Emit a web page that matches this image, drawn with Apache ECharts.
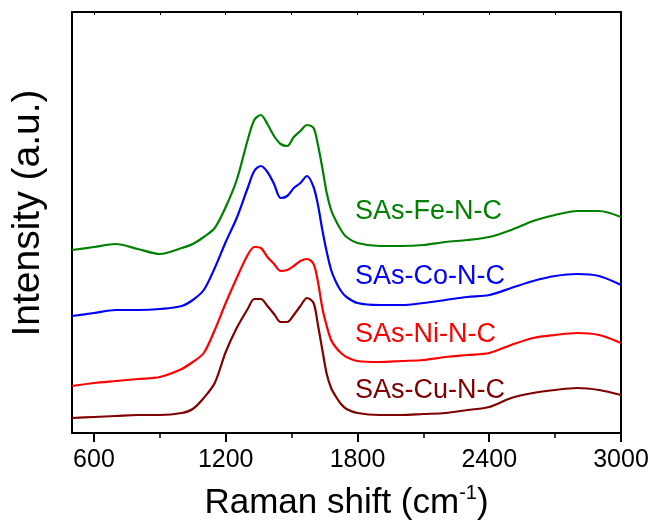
<!DOCTYPE html>
<html>
<head>
<meta charset="utf-8">
<script src="https://cdn.jsdelivr.net/npm/echarts@6/dist/echarts.min.js"></script>
<style>
html,body{margin:0;padding:0;background:#fff;}
#chart{width:657px;height:526px;}
</style>
</head>
<body>
<div id="chart"></div>
<script>
// Raman shift (cm^-1)
const ramanShift = [500,600,700,800,900,1000,1050,1100,1150,1200,1250,1300,1330,1360,1390,1420,1450,1480,1510,1540,1570,1600,1620,1640,1660,1680,1700,1725,1750,1800,1900,2000,2100,2200,2300,2400,2500,2600,2700,2800,2900,3000];
// Intensities (a.u., offset traces as plotted)
const feNC = [183,186,189,184,179,185,189,196,205,226,253,293,313,318,309,297,289,287,296,302,308,305,288,265,240,223,213,203,196,190,187,187,188,191,193,196,203,212,218,222,222,216];
const coNC = [117,120,123,123,124,127,133,143,165,191,215,245,262,267,261,249,235,237,245,250,257,246,228,203,181,163,152,142,136,130,128,128,130,133,136,138,145,152,157,159,157,148];
const niNC = [47,50,52,54,56,64,71,80,103,130,155,178,186,185,176,169,162,163,167,172,174,169,151,125,107,93,86,80,76,72,71,72,73,76,78,80,88,95,98,100,98,90];
const cuNC = [15,16,17,18,18,20,24,35,50,81,105,124,134,134,127,119,111,111,118,127,135,130,108,83,59,45,37,29,24,20,18,18,19,20,23,26,35,40,43,45,43,38];

const seriesNames = ['SAs-Fe-N-C','SAs-Co-N-C','SAs-Ni-N-C','SAs-Cu-N-C'];
const seriesColors = ['#008000','#0000ff','#ff0000','#800000'];
const seriesData = [feNC, coNC, niNC, cuNC];

const majorTicks = [600,1200,1800,2400,3000];
const minorTicks = [900,1500,2100,2700];
const allTicks = [600,900,1200,1500,1800,2100,2400,2700,3000];

const FONT = '"Liberation Sans", Arial, Helvetica, sans-serif';

const chart = echarts.init(document.getElementById('chart'), null, {renderer:'canvas'});

const labelY = [212, 277, 335, 391];

const option = {
  backgroundColor: '#ffffff',
  animation: false,
  grid: {left: 72, right: 36, top: 12, bottom: 93, containLabel: false},
  xAxis: [
    {
      type: 'value', min: 500, max: 3000, position: 'bottom',
      axisLine: {show: true, onZero: false, lineStyle: {color: '#000', width: 2}},
      axisTick: {show: true, inside: false, length: 9, customValues: majorTicks, lineStyle: {color: '#000', width: 2}},
      axisLabel: {show: true, customValues: majorTicks, margin: 15, fontSize: 25, color: '#000', fontFamily: FONT,
        formatter: function (v) { return String(v); }},
      splitLine: {show: false},
      name: '{a|Raman shift (cm}{b|-1}{a|)}',
      nameLocation: 'middle', nameGap: 50,
      nameTextStyle: {
        rich: {
          a: {fontSize: 35, color: '#000', fontFamily: FONT, lineHeight: 40},
          b: {fontSize: 20, color: '#000', fontFamily: FONT, lineHeight: 40, verticalAlign: 'top'}
        }
      }
    },
    {
      type: 'value', min: 500, max: 3000, position: 'bottom',
      axisLine: {show: false},
      axisTick: {show: true, inside: false, length: 5, customValues: minorTicks, lineStyle: {color: '#000', width: 1.5}},
      axisLabel: {show: false},
      splitLine: {show: false}
    },
    {
      type: 'value', min: 500, max: 3000, position: 'top',
      axisLine: {show: true, onZero: false, lineStyle: {color: '#000', width: 2}},
      axisTick: {show: true, inside: true, length: 3, customValues: allTicks, lineStyle: {color: '#000', width: 1}},
      axisLabel: {show: false},
      splitLine: {show: false}
    }
  ],
  yAxis: [
    {
      type: 'value', min: 0, max: 421, position: 'left',
      axisLine: {show: true, onZero: false, lineStyle: {color: '#000', width: 2}},
      axisTick: {show: false}, axisLabel: {show: false}, splitLine: {show: false}
    },
    {
      type: 'value', min: 0, max: 421, position: 'right',
      axisLine: {show: true, onZero: false, lineStyle: {color: '#000', width: 2}},
      axisTick: {show: false}, axisLabel: {show: false}, splitLine: {show: false}
    }
  ],
  series: seriesNames.map((name, i) => ({
    name: name,
    type: 'line',
    xAxisIndex: 0, yAxisIndex: 0,
    data: ramanShift.map((x, j) => [x, seriesData[i][j]]),
    showSymbol: false, symbol: 'none',
    smooth: 0.3,
    lineStyle: {color: seriesColors[i], width: 2.2},
    itemStyle: {color: seriesColors[i]},
    z: 10 - i
  })),
  graphic: [
    {
      type: 'text', x: 28, y: 213, rotation: Math.PI / 2,
      style: {text: 'Intensity (a.u.)', font: '39px ' + FONT, fill: '#000', align: 'center', verticalAlign: 'middle'}
    }
  ].concat(seriesNames.map((name, i) => ({
    type: 'text', x: 355, y: labelY[i],
    style: {text: name, font: '27px ' + FONT, fill: seriesColors[i], align: 'left', verticalAlign: 'middle'}
  })))
};
chart.setOption(option);
</script>
</body>
</html>
